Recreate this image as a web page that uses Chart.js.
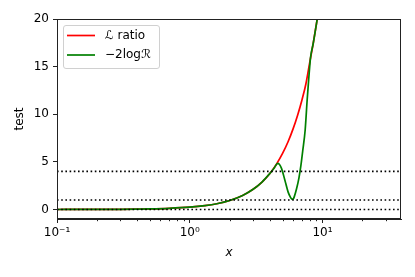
<!DOCTYPE html>
<html>
<head>
<meta charset="utf-8">
<script src="https://cdn.jsdelivr.net/npm/chart.js@4"></script>
<style>
  html, body { margin: 0; padding: 0; background: #fff; }
  canvas { display: block; }
</style>
</head>
<body>
<canvas id="myChart" width="415" height="277"></canvas>
<script>
// values
var redX   = [0.1, 0.15, 0.2, 0.3, 0.4, 0.5, 0.7, 1, 1.3, 1.6, 2, 2.5, 3, 3.5, 4, 4.5, 5, 5.5, 6, 6.5, 7, 7.5, 8, 8.5, 9, 9.5, 10];
var redY   = [0.00, 0.01, 0.01, 0.02, 0.04, 0.06, 0.12, 0.24, 0.40, 0.60, 0.94, 1.47, 2.12, 2.88, 3.76, 4.76, 5.88, 7.11, 8.46, 9.93, 11.5, 13.2, 15.4, 17.4, 19.5, 21.6, 23.5];
var greenX = [0.1, 0.15, 0.2, 0.3, 0.4, 0.5, 0.7, 1, 1.3, 1.6, 2, 2.5, 3, 3.5, 4, 4.3, 4.6, 4.9, 5.2, 5.5, 5.75, 5.85, 5.95, 6.05, 6.13, 6.38, 6.64, 6.87, 7.1, 7.4, 7.66, 7.9, 8.13, 8.5, 9, 9.5, 10];
var greenY = [0.00, 0.01, 0.01, 0.02, 0.04, 0.06, 0.12, 0.24, 0.40, 0.60, 0.94, 1.47, 2.12, 2.88, 3.76, 4.3, 4.84, 4.35, 3.1, 1.85, 1.25, 1.12, 1.08, 1.15, 1.35, 2.2, 3.3, 4.6, 6.2, 8.35, 11.5, 14.0, 16.0, 17.4, 19.5, 21.6, 23.5];
var refLevels = [0, 1, 4];
var seriesNames = ["\u2112 ratio", "\u22122log\u211B"];
var yTicks = [0, 5, 10, 15, 20];
var xTicks = [0.1, 0.2, 0.3, 0.4, 0.5, 0.6, 0.7, 0.8, 0.9, 1, 2, 3, 4, 5, 6, 7, 8, 9, 10, 20, 30];
var xTickLabels = {"0.1": "10\u207B\u00B9", "1": "10\u2070", "10": "10\u00B9"};
var xMin = 0.1, xMax = 39, yMin = -1, yMax = 20;

var FONT = "'DejaVu Sans', sans-serif";
var INK = "#222";

function pts(xs, ys) {
  return xs.map(function (x, i) { return {x: x, y: ys[i]}; });
}
function isMajor(v) {
  var l = Math.log10(v);
  return Math.abs(l - Math.round(l)) < 1e-6;
}

var datasets = [
  {label: seriesNames[0], data: pts(redX, redY), borderColor: "#ff0000", borderWidth: 1.7,
   pointRadius: 0, cubicInterpolationMode: "monotone", order: 3},
  {label: seriesNames[1], data: pts(greenX, greenY), borderColor: "#008000", borderWidth: 1.7,
   pointRadius: 0, cubicInterpolationMode: "monotone", order: 2}
];
refLevels.forEach(function (v) {
  datasets.push({label: "ref" + v, data: [{x: xMin, y: v}, {x: xMax, y: v}], borderColor: "#000",
    borderWidth: 1.6, borderDash: [1.6, 2.6], pointRadius: 0, order: 1});
});

// frame, minor ticks and a matplotlib style legend box
var extras = {
  id: "extras",
  afterDraw: function (chart) {
    var c = chart.ctx, a = chart.chartArea, xs = chart.scales.x;
    c.save();
    c.strokeStyle = INK;
    c.lineWidth = 1;
    xTicks.forEach(function (v) {
      if (isMajor(v)) return;
      var px = Math.round(xs.getPixelForValue(v)) + 0.5;
      c.beginPath();
      c.moveTo(px, a.bottom);
      c.lineTo(px, a.bottom + 2.2);
      c.stroke();
    });
    c.strokeRect(Math.round(a.left) + 0.5, Math.round(a.top) + 0.5,
      Math.round(a.right - a.left) - 1, Math.round(a.bottom - a.top) - 1);

    var bx = a.left + 6, by = a.top + 6, bw = 96, bh = 43;
    c.fillStyle = "rgba(255,255,255,0.8)";
    c.strokeStyle = "#d0d0d0";
    c.beginPath();
    c.roundRect(bx + 0.5, by + 0.5, bw, bh, 2.5);
    c.fill();
    c.stroke();
    c.font = "12px " + FONT;
    c.textBaseline = "middle";
    c.textAlign = "left";
    [0, 1].forEach(function (i) {
      var ly = by + 10.5 + i * 19.5;
      c.strokeStyle = datasets[i].borderColor;
      c.lineWidth = 1.7;
      c.beginPath();
      c.moveTo(bx + 4, ly);
      c.lineTo(bx + 32, ly);
      c.stroke();
      c.fillStyle = "#000";
      c.fillText(seriesNames[i], bx + 42, ly);
    });
    c.restore();
  }
};

new Chart("myChart", {
  type: "line",
  data: {datasets: datasets},
  plugins: [extras],
  options: {
    responsive: false,
    animation: false,
    devicePixelRatio: 1,
    layout: {padding: {top: 19, right: 14, left: 0, bottom: 0}},
    plugins: {legend: {display: false}, tooltip: {enabled: false}},
    scales: {
      x: {
        type: "logarithmic", min: xMin, max: xMax,
        afterBuildTicks: function (s) { s.ticks = xTicks.map(function (v) { return {value: v}; }); },
        afterFit: function (s) { s.height = 58; },
        ticks: {
          autoSkip: false, maxRotation: 0, padding: 3, color: "#000",
          font: {family: FONT, size: 12},
          callback: function (v) { return isMajor(v) ? xTickLabels[String(+v.toPrecision(3))] : ""; }
        },
        grid: {drawOnChartArea: false, drawTicks: true, tickLength: 4, tickWidth: 1,
               tickColor: function (ctx) { return ctx.tick && isMajor(ctx.tick.value) ? INK : "rgba(0,0,0,0)"; }},
        border: {color: INK, width: 1},
        title: {display: true, text: "x", color: "#000", padding: {top: 4, bottom: 17},
                font: {family: FONT, size: 12, style: "italic"}}
      },
      y: {
        min: yMin, max: yMax,
        afterBuildTicks: function (s) { s.ticks = yTicks.map(function (v) { return {value: v}; }); },
        afterFit: function (s) { s.width = 57; },
        ticks: {padding: 4, color: "#000", font: {family: FONT, size: 12}},
        grid: {drawOnChartArea: false, drawTicks: true, tickLength: 4, tickWidth: 1, tickColor: INK},
        border: {color: INK, width: 1},
        title: {display: true, text: "test", color: "#000", padding: {top: 13, bottom: 13},
                font: {family: FONT, size: 12}}
      }
    }
  }
});
</script>
</body>
</html>
